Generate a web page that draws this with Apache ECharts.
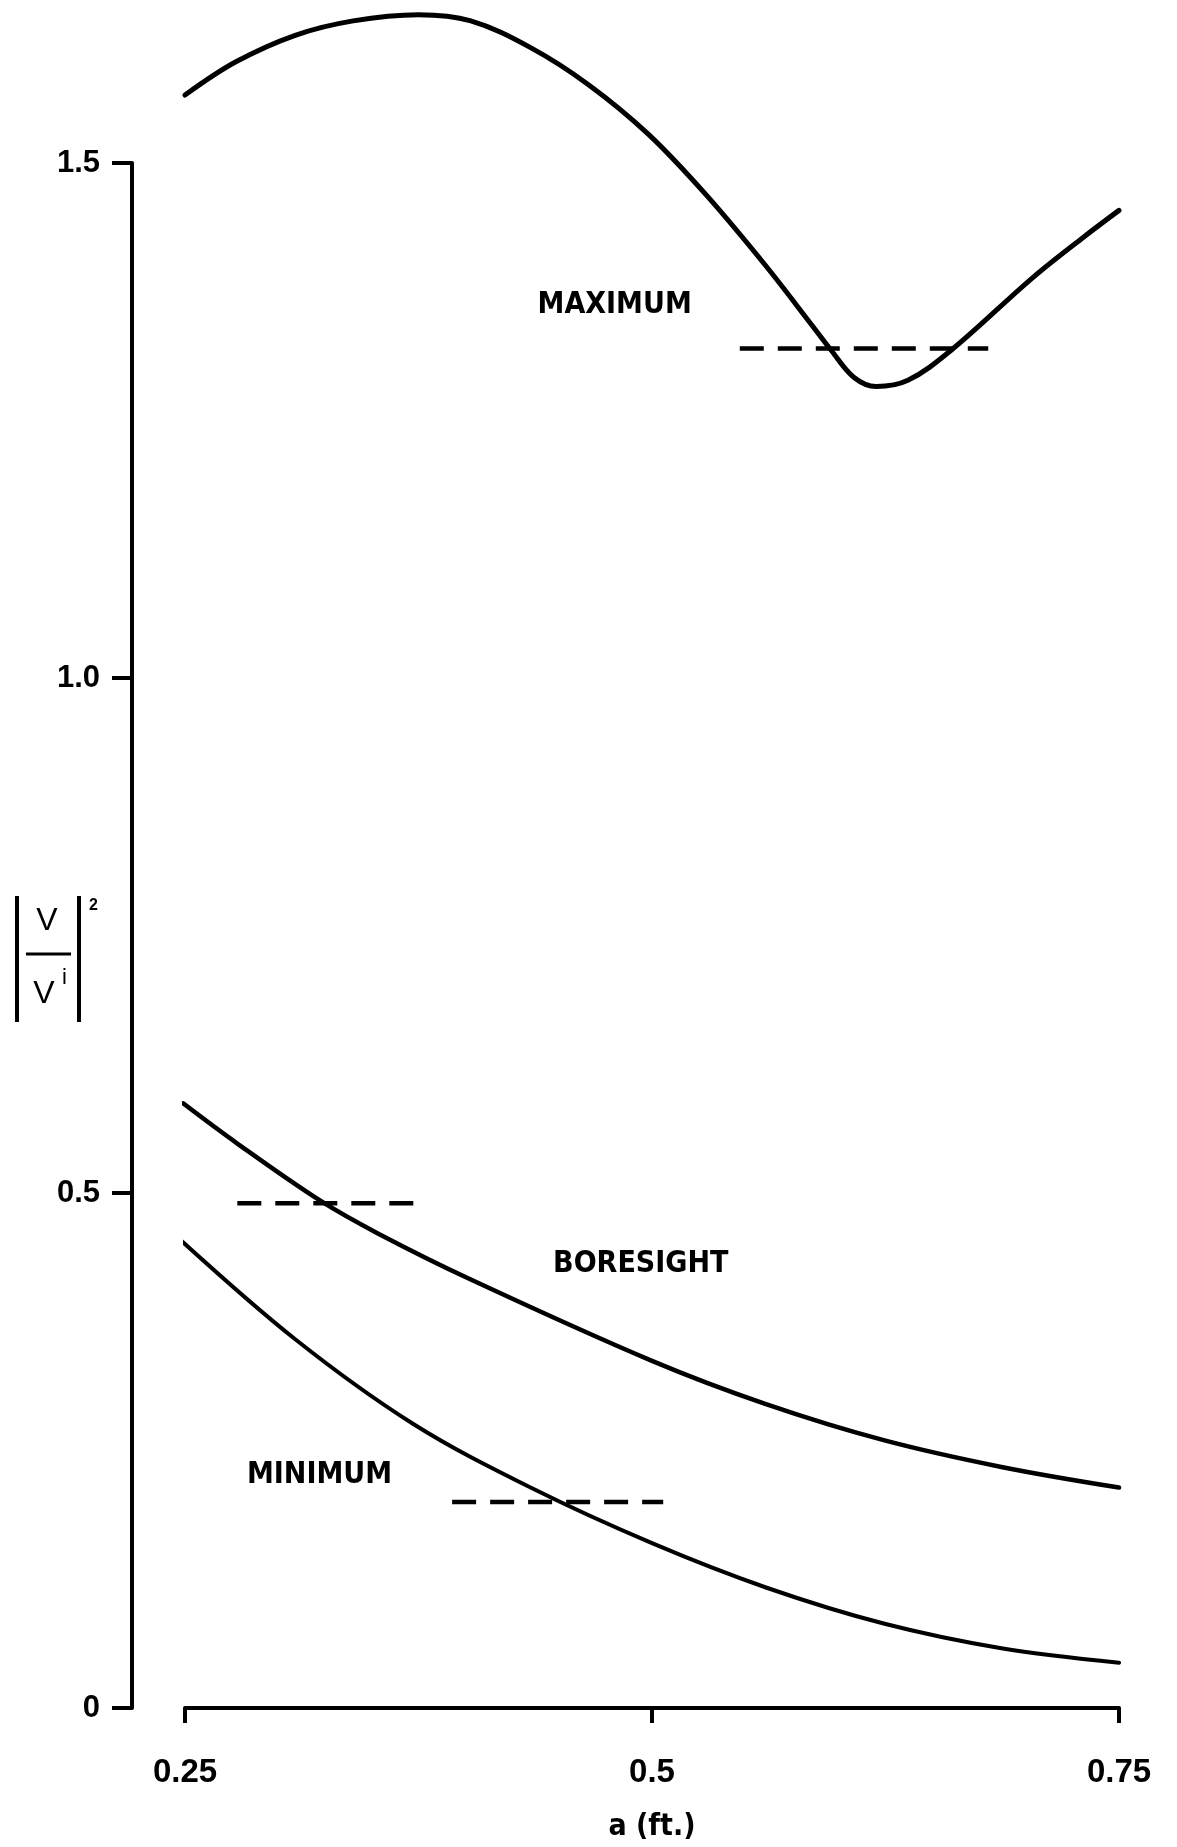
<!DOCTYPE html>
<html>
<head>
<meta charset="utf-8">
<script src="https://cdn.jsdelivr.net/npm/echarts@6/dist/echarts.min.js"></script>
<style>
html,body{margin:0;padding:0;background:#fff;}
#chart{width:1177px;height:1847px;}
</style>
</head>
<body>
<div id="chart"></div>
<script>
// ---- data ----
var xTicks = [0.25, 0.5, 0.75];
var yTicks = [0, 0.5, 1.0, 1.5];
var yTickLabels = {"0": "0", "0.5": "0.5", "1": "1.0", "1.5": "1.5"};

var maximumCurve = [
  [0.250,1.566],[0.277,1.598],[0.309,1.624],[0.340,1.638],[0.375,1.644],
  [0.403,1.638],[0.435,1.612],[0.466,1.576],[0.498,1.528],[0.529,1.469],
  [0.561,1.400],[0.585,1.344],[0.596,1.318],[0.608,1.292],[0.620,1.283],
  [0.637,1.289],[0.660,1.318],[0.704,1.389],[0.731,1.428],[0.750,1.454]
];
var boresightCurve = [
  [0.249,0.587],[0.278,0.548],[0.322,0.493],[0.353,0.461],[0.403,0.416],
  [0.500,0.337],[0.561,0.295],[0.624,0.260],[0.687,0.234],[0.750,0.214]
];
var minimumCurve = [
  [0.246,0.457],[0.309,0.358],[0.372,0.276],[0.435,0.214],[0.500,0.160],
  [0.561,0.117],[0.624,0.082],[0.687,0.058],[0.750,0.044]
];
var maximumDashed = [[0.547,1.320],[0.680,1.320]];
var boresightDashed = [[0.278,0.490],[0.377,0.490]];
var minimumDashed = [[0.393,0.200],[0.506,0.200]];

var curveLabels = ["MAXIMUM", "BORESIGHT", "MINIMUM"];
var curveLabelPos = [[0.480,1.362],[0.494,0.431],[0.322,0.226]];
var xAxisTitle = "a (ft.)";

// ---- chart ----
var chart = echarts.init(document.getElementById('chart'), null, {renderer:'canvas'});
var ink = '#000';
var tickFont = '"Liberation Sans", Arial, sans-serif';
var condFont = '"DejaVu Sans Condensed", "Liberation Sans Narrow", "Liberation Sans", sans-serif';

function curve(data, w){
  return {type:'line', data:data, smooth:0.35, showSymbol:false, clip:false, silent:true,
    lineStyle:{color:ink, width:w, cap:'round', join:'round'}};
}
function dashed(data){
  return {type:'line', data:data, showSymbol:false, clip:false, silent:true,
    lineStyle:{color:ink, width:4.5, type:[24,14]}};
}

var option = {
  backgroundColor:'#fff',
  animation:false,
  grid:{left:185, right:58, top:163, bottom:132, containLabel:false},
  xAxis:{
    type:'value', min:0.25, max:0.75, interval:0.25,
    position:'bottom',
    axisLine:{show:true, onZero:false, lineStyle:{color:ink, width:4}},
    axisTick:{show:true, length:15, lineStyle:{color:ink, width:4}},
    axisLabel:{color:ink, fontSize:33, fontWeight:'bold', fontFamily:tickFont, margin:48,
      formatter:function(v){return String(v);}},
    splitLine:{show:false},
    name:xAxisTitle, nameLocation:'middle', nameGap:104,
    nameTextStyle:{color:ink, fontSize:30, fontWeight:'bold', fontFamily:condFont}
  },
  yAxis:{
    type:'value', min:0, max:1.5, interval:0.5, offset:53,
    axisLine:{show:true, lineStyle:{color:ink, width:4}},
    axisTick:{show:true, length:20, lineStyle:{color:ink, width:4}},
    axisLabel:{color:ink, fontSize:31, fontWeight:'bold', fontFamily:tickFont, margin:32,
      formatter:function(v){return yTickLabels[String(v)];}},
    splitLine:{show:false}
  },
  series:[
    curve(maximumCurve, 5),
    curve(boresightCurve, 4.5),
    curve(minimumCurve, 4),
    dashed(maximumDashed),
    dashed(boresightDashed),
    dashed(minimumDashed),
    {type:'scatter', symbolSize:0, silent:true, clip:false,
     itemStyle:{opacity:1},
     data:curveLabels.map(function(t,i){return {value:curveLabelPos[i], name:t};}),
     label:{show:true, position:'inside', formatter:'{b}', color:ink, opacity:1,
       fontSize:30, fontWeight:'bold', fontFamily:condFont}}
  ],
  graphic:[
    {type:'line', shape:{x1:17, y1:896, x2:17, y2:1022}, style:{stroke:ink, lineWidth:4}},
    {type:'line', shape:{x1:79, y1:896, x2:79, y2:1022}, style:{stroke:ink, lineWidth:4}},
    {type:'line', shape:{x1:26, y1:954, x2:71, y2:954}, style:{stroke:ink, lineWidth:3}},
    {type:'text', x:47, y:921, style:{text:'V', fill:ink, fontSize:32, fontFamily:tickFont, align:'center', verticalAlign:'middle'}},
    {type:'text', x:44, y:994, style:{text:'V', fill:ink, fontSize:32, fontFamily:tickFont, align:'center', verticalAlign:'middle'}},
    {type:'text', x:62, y:978, style:{text:'i', fill:ink, fontSize:22, fontFamily:tickFont, align:'left', verticalAlign:'middle'}},
    {type:'text', x:89, y:906, style:{text:'2', fill:ink, fontSize:16, fontWeight:'bold', fontFamily:tickFont, align:'left', verticalAlign:'middle'}}
  ]
};
chart.setOption(option);
</script>
</body>
</html>
